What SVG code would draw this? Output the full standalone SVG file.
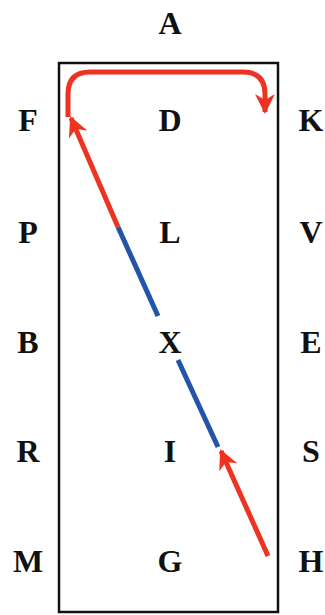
<svg xmlns="http://www.w3.org/2000/svg" width="325" height="615" viewBox="0 0 325 615">
<style>
.t{font-family:"Liberation Serif",serif;font-weight:bold;font-size:32px;text-anchor:middle;fill:#111}
.r{stroke:#ee3322;stroke-width:5;fill:none}
.b{stroke:#2255aa;stroke-width:5;fill:none}
</style>
<defs>
<marker id="ah" viewBox="0 0 10 10" refX="9" refY="5" markerWidth="4" markerHeight="4" orient="auto" markerUnits="strokeWidth">
<path d="M0,0 L10,5 L0,10 L3,5 Z" fill="#ee3322"/>
</marker>
</defs>
<rect x="59" y="63" width="219" height="549" fill="#fff" stroke="#111" stroke-width="2.5"/>
<g id="nodes">
<g id="A"><text class="t" x="170" y="34">A</text></g>
<g id="F"><text class="t" x="28" y="131">F</text></g>
<g id="D"><text class="t" x="170" y="131">D</text></g>
<g id="K"><text class="t" x="311" y="131">K</text></g>
<g id="P"><text class="t" x="28" y="243">P</text></g>
<g id="L"><text class="t" x="170" y="243">L</text></g>
<g id="V"><text class="t" x="311" y="243">V</text></g>
<g id="B"><text class="t" x="28" y="353">B</text></g>
<g id="X"><text class="t" x="170" y="353">X</text></g>
<g id="E"><text class="t" x="311" y="353">E</text></g>
<g id="R"><text class="t" x="28" y="462">R</text></g>
<g id="I"><text class="t" x="170" y="462">I</text></g>
<g id="S"><text class="t" x="311" y="462">S</text></g>
<g id="M"><text class="t" x="28" y="572">M</text></g>
<g id="G"><text class="t" x="170" y="572">G</text></g>
<g id="H"><text class="t" x="311" y="572">H</text></g>
</g>
<g id="connectors">
<path class="r" d="M68,117 L68,94 Q68,72 90,72 L243,72 Q265,72 265,94 L265,112" marker-end="url(#ah)"/>
<path class="r" d="M118,227 L71,118" marker-end="url(#ah)"/>
<path class="b" d="M158,316 L118,227"/>
<path class="b" d="M218,447 L178,360"/>
<path class="r" d="M268,556 L221,451" marker-end="url(#ah)"/>
</g>
</svg>
